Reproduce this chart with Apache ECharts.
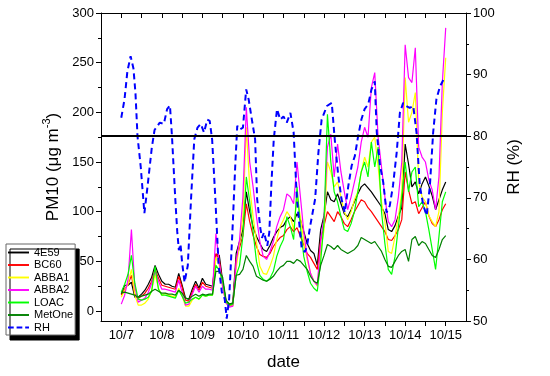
<!DOCTYPE html>
<html><head><meta charset="utf-8">
<script src="https://cdn.jsdelivr.net/npm/echarts@6/dist/echarts.min.js"></script>
<style>html,body{margin:0;padding:0;background:#fff}#c{width:550px;height:376px}</style>
</head><body><div id="c"></div>
<script>
const dayLabels = ['10/7','10/8','10/9','10/10','10/11','10/12','10/13','10/14','10/15'];
const leftTicks = [0,50,100,150,200,250,300];
const leftMinor = [25,75,125,175,225,275];
const seriesNames = ['4E59','BC60','ABBA1','ABBA2','LOAC','MetOne','RH'];
// PM10 sampled every 2 hours starting 10/7 00:00
const s4E59 = [17,26,26,29,14,14,17,21,27,34,46,37, 30,27,27,25,24,38,26,13,12,22,30,23, 33,27,26,25,57,56,30,10,7,8,58,70, 82,120,100,85,75,68,62,60,66,74,80,84, 86,92,95,90,98,92,80,68,61,58,46,82, 96,120,112,110,118,108,98,95,102,110,118,125, 128,124,120,115,110,105,98,82,80,86,96,104, 168,148,125,130,118,128,135,126,116,102,112,122, 130];
const sBC60 = [16,22,27,36,17,13,15,18,23,30,42,33, 26,25,24,23,22,35,24,11,10,19,27,21, 29,25,24,23,58,52,27,9,6,6,52,64, 76,108,90,76,65,57,55,54,58,65,70,74, 76,82,85,80,84,75,67,58,54,48,42,72, 86,100,95,90,100,95,88,85,92,100,106,112, 110,104,100,95,90,85,80,72,71,76,82,92, 140,122,108,110,98,104,110,96,88,85,92,102, 108];
const sABBA1 = [14,21,27,42,16,6,6,8,12,21,37,23, 16,18,16,15,14,23,15,5,5,11,14,12, 16,15,16,16,54,46,24,8,5,5,43,68, 96,185,125,95,70,45,38,37,45,55,72,85, 92,100,95,82,115,95,70,52,38,30,25,60, 82,150,140,125,130,115,100,92,100,112,120,140, 155,145,170,175,145,110,90,60,58,75,95,120, 235,190,200,220,130,115,110,96,90,85,100,200, 255];
const sABBA2 = [7,16,32,82,25,9,11,13,19,28,40,30, 22,22,21,20,19,31,19,6,7,17,25,19, 25,22,22,21,78,49,24,8,4,5,50,72, 115,205,150,125,95,70,55,52,60,70,85,95, 102,118,115,108,150,115,80,55,38,30,26,70, 95,165,178,135,168,140,120,102,115,130,145,170, 185,175,225,240,175,145,115,90,85,92,115,150, 268,235,230,265,165,155,150,132,122,102,135,230, 285];
const sLOAC = [19,27,37,56,28,12,11,12,14,20,45,22, 16,16,15,14,13,21,15,8,9,12,14,12, 16,15,16,16,46,41,30,9,6,7,36,46, 76,135,110,80,50,36,32,30,33,40,55,65, 72,95,85,72,125,85,55,40,28,23,20,50, 90,198,150,120,110,95,82,80,88,100,120,140, 150,135,170,145,165,100,68,42,37,55,85,115, 150,120,140,145,105,110,100,82,62,42,75,110, 120];
const sMetOne = [18,19,18,17,16,14,15,16,17,20,22,20, 18,18,17,17,16,21,18,13,12,15,17,15, 17,16,17,17,40,40,34,11,7,8,36,37, 42,56,50,45,35,33,31,30,32,35,40,44, 46,50,50,48,52,50,46,42,35,30,28,46, 56,67,65,62,66,62,60,58,60,62,66,74, 72,70,68,70,65,60,52,45,44,50,56,60, 62,50,72,75,66,70,68,62,56,54,62,72, 76];
// RH: time in days after 10/7 00:00, and value (%)
const rhDays = [0,0.08,0.15,0.23,0.3,0.35,0.4,0.48,0.57,0.65,0.75,0.82,0.95,1.05,1.13,1.2,1.25,1.33,1.38,1.42,1.46,1.5,1.56,1.64,1.72,1.8,1.88,1.96,2.04,2.12,2.18,2.24,2.32,2.4,2.48,2.55,2.6,2.66,2.74,2.81,2.86,2.92,3.0,3.08,3.14,3.22,3.3,3.35,3.43,3.47,3.52,3.6,3.65,3.7,3.76,3.84,3.92,4.0,4.08,4.17,4.25,4.33,4.41,4.45,4.53,4.58,4.66,4.78,4.86,4.94,5.07,5.19,5.27,5.35,5.43,5.51,5.6,5.68,5.76,5.84,5.92,6.0,6.09,6.17,6.25,6.3,6.38,6.46,6.54,6.62,6.7,6.79,6.87,6.95,7.03,7.11,7.2,7.28,7.36,7.45,7.53,7.61,7.69,7.77,7.86,7.97];
const rhValues = [83,86,90.5,93,91,87,80,75,67.5,72,78,81,82.2,82,84.4,85,80,70,64.5,61.5,62.5,59.5,56.3,59,69.8,79.5,81.4,82,80.6,82.7,82.5,79.5,69.8,59,54.7,53.6,50.4,53.6,64.4,75.2,81.7,81.1,81.4,87.6,86,82.7,79.5,69.8,65,63.5,64.4,62.2,64.4,72,79.5,84.4,82.7,83.2,82.2,83.8,80.6,69.8,64.4,61.7,61.2,62.2,65.5,69.8,77.3,82.7,84.9,85.4,79,73.6,69.8,67.6,72,75.2,76.8,80,82.7,84.4,85.2,87.6,88.9,80.6,75.2,72.5,67.6,68.7,72,77.3,83.8,85.4,84.9,84.6,84.9,80.6,72,68.7,67.1,72,80.6,86,88.1,89.5];
const rhThreshold = 80;

const pmDays = s4E59.map((_, i) => i * 2 / 24);
const colors = ['#000000','#ff0000','#ffff00','#ff00ff','#00ff00','#008000','#0000ff'];
const pmData = [s4E59, sBC60, sABBA1, sABBA2, sLOAC, sMetOne];
const font = 'Liberation Sans, Arial, sans-serif';

const dayTicks = [];
for (let d = 0; d <= 8; d += 0.5) dayTicks.push(d);
const dayMajor = dayLabels.map((_, i) => i);

const series = pmData.map((vals, k) => ({
  name: seriesNames[k], type: 'line', xAxisIndex: 0, yAxisIndex: 0,
  data: pmDays.map((t, i) => [t, vals[i]]),
  symbol: 'none', lineStyle: { color: colors[k], width: 1.2 }, itemStyle: { color: colors[k] },
  animation: false
}));
series.push({
  name: 'RH', type: 'line', xAxisIndex: 0, yAxisIndex: 1,
  data: rhDays.map((t, i) => [t, rhValues[i]]),
  symbol: 'none', lineStyle: { color: colors[6], width: 2, type: [6, 4] }, itemStyle: { color: colors[6] },
  animation: false,
  markLine: { silent: true, symbol: 'none', animation: false, label: { show: false },
    lineStyle: { color: '#000', width: 2, type: 'solid' }, data: [{ yAxis: rhThreshold }] }
});

const solidIcon = 'path://M0,0h22v2h-22z';
const dashIcon = 'path://M0,0h6v2h-6z M9,0h6v2h-6z M18,0h4v2h-4z';
const legendData = seriesNames.map((n, k) => ({
  name: n, icon: k === 6 ? dashIcon : solidIcon,
  itemStyle: { color: colors[k], borderWidth: 0 }
}));

const noZero = { onZero: false };
const chart = echarts.init(document.getElementById('c'), null, { renderer: 'canvas' });
chart.setOption({
  backgroundColor: '#fff',
  animation: false,
  grid: { left: 101, right: 84, top: 13, bottom: 54 },
  legend: {
    orient: 'vertical', left: 6, top: 244, data: legendData,
    itemWidth: 21, itemHeight: 2, itemGap: 1.5,
    textStyle: { fontSize: 11, fontFamily: font, color: '#000' },
    backgroundColor: '#fff', borderColor: '#666', borderWidth: 1, borderRadius: 0,
    padding: [3, 2, 2, 2],
    shadowColor: '#000', shadowOffsetX: 4, shadowOffsetY: 5, shadowBlur: 0.01
  },
  xAxis: [
    { type: 'value', position: 'bottom', min: -0.5, max: 8.5,
      name: 'date', nameLocation: 'middle', nameGap: 33,
      nameTextStyle: { fontSize: 17, fontFamily: font, color: '#000' },
      axisLine: Object.assign({ show: true, lineStyle: { color: '#000', width: 1 } }, noZero),
      axisTick: { show: true, length: 5, lineStyle: { color: '#000' }, customValues: dayTicks },
      axisLabel: { fontSize: 13, fontFamily: font, color: '#000', margin: 8, customValues: dayMajor,
        formatter: v => dayLabels[Math.round(v)] || '' },
      splitLine: { show: false } },
    { type: 'value', position: 'top', min: -0.5, max: 8.5,
      axisLine: Object.assign({ show: true, lineStyle: { color: '#000', width: 1 } }, noZero),
      axisTick: { show: true, inside: true, length: 5, lineStyle: { color: '#000' }, customValues: dayTicks },
      axisLabel: { show: false }, splitLine: { show: false } }
  ],
  yAxis: [
    { type: 'value', position: 'left', min: -10, max: 300,
      name: 'PM10 (μg m{sup|-3})', nameLocation: 'middle', nameGap: 36, nameRotate: 90,
      nameTextStyle: { fontSize: 17, fontFamily: font, color: '#000',
        rich: { sup: { fontSize: 11, fontFamily: font, color: '#000', verticalAlign: 'top', lineHeight: 22 } } },
      axisLine: Object.assign({ show: true, lineStyle: { color: '#000', width: 1 } }, noZero),
      axisTick: { show: true, length: 5, lineStyle: { color: '#000' }, customValues: leftTicks },
      axisLabel: { fontSize: 13, fontFamily: font, color: '#000', margin: 7, customValues: leftTicks },
      splitLine: { show: false } },
    { type: 'value', position: 'right', min: 50, max: 100, interval: 10,
      name: 'RH (%)', nameLocation: 'middle', nameGap: 34, nameRotate: 90,
      nameTextStyle: { fontSize: 17, fontFamily: font, color: '#000' },
      axisLine: Object.assign({ show: true, lineStyle: { color: '#000', width: 1 } }, noZero),
      axisTick: { show: true, length: 5, lineStyle: { color: '#000' } },
      minorTick: { show: true, splitNumber: 2, length: 3, lineStyle: { color: '#000' } },
      axisLabel: { fontSize: 13, fontFamily: font, color: '#000', margin: 7 },
      splitLine: { show: false } },
    { type: 'value', position: 'left', min: -10, max: 300,
      axisLine: { show: false, onZero: false },
      axisTick: { show: true, length: 3, lineStyle: { color: '#000' }, customValues: leftMinor },
      axisLabel: { show: false }, splitLine: { show: false } }
  ],
  series: series
});
</script></body></html>
